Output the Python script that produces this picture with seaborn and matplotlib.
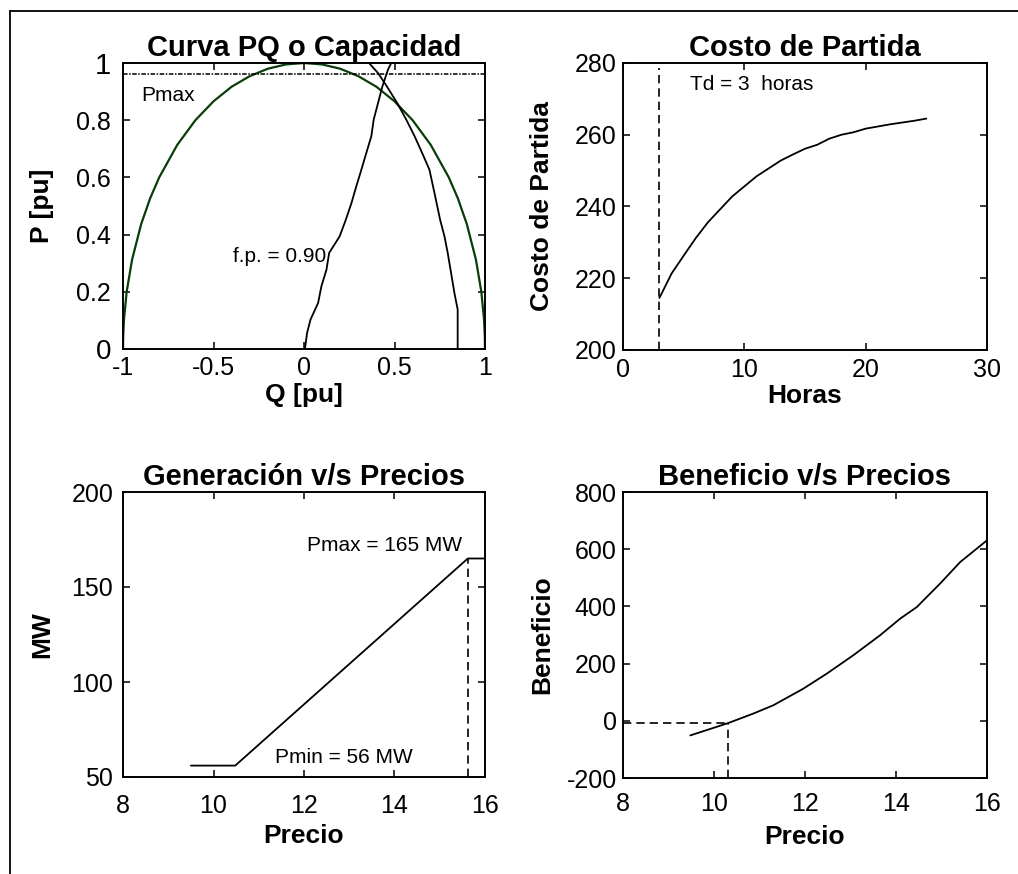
import matplotlib
matplotlib.use("Agg")
import matplotlib.pyplot as plt
from matplotlib.lines import Line2D
import seaborn as sns

# ---- Curva PQ (per unit) ----
cap_q = [-1.0, -0.999, -0.995, -0.98, -0.95, -0.9, -0.85, -0.8, -0.7, -0.6, -0.5,
         -0.4, -0.3, -0.2, -0.1, 0.0, 0.1, 0.2, 0.3, 0.4, 0.5, 0.6, 0.7, 0.8,
         0.85, 0.9, 0.95, 0.98, 0.995, 0.999, 1.0]
cap_p = [0.0, 0.045, 0.100, 0.199, 0.312, 0.436, 0.527, 0.600, 0.714, 0.800, 0.866,
         0.917, 0.954, 0.980, 0.995, 1.0, 0.995, 0.980, 0.954, 0.917, 0.866, 0.800,
         0.714, 0.600, 0.527, 0.436, 0.312, 0.199, 0.100, 0.045, 0.0]

rotor_q = [0.849, 0.849, 0.831, 0.794, 0.776, 0.752, 0.721, 0.693, 0.653, 0.611,
           0.565, 0.515, 0.458, 0.409, 0.359]
rotor_p = [0.0, 0.138, 0.196, 0.336, 0.394, 0.452, 0.545, 0.627, 0.685, 0.744,
           0.802, 0.860, 0.918, 0.965, 1.0]

fp_q = [0.005, 0.017, 0.036, 0.078, 0.096, 0.124, 0.139, 0.197, 0.231, 0.262,
        0.289, 0.317, 0.344, 0.372, 0.385, 0.409, 0.433, 0.464, 0.482]
fp_p = [0.0, 0.056, 0.103, 0.161, 0.219, 0.277, 0.336, 0.394, 0.452, 0.510,
        0.569, 0.627, 0.685, 0.744, 0.802, 0.860, 0.918, 0.977, 1.0]

p_max_pu = 0.96

# ---- Costo de partida ----
horas = list(range(3, 26))
costo = [214.5, 221.3, 226.3, 231.2, 235.6, 239.2, 242.8, 245.6, 248.4, 250.6,
         252.8, 254.5, 256.1, 257.2, 258.9, 260.0, 260.7, 261.7, 262.3, 262.9,
         263.4, 263.9, 264.5]
td_horas = 3

# ---- Generacion v/s precios ----
gen_precio = [9.5, 10.48, 15.62, 16.0]
gen_mw = [56, 56, 165, 165]
p_min_mw = 56
p_max_mw = 165

# ---- Beneficio v/s precios ----
ben_precio = [9.48, 9.83, 10.31, 10.86, 11.30, 11.96, 12.48, 13.06, 13.65, 14.09,
              14.46, 14.97, 15.41, 16.0]
beneficio = [-51, -33, -8, 25, 54, 112, 165, 229, 299, 357, 398, 480, 555, 631]
precio_equilibrio = 10.3
beneficio_equilibrio = -8

sns.set_theme(style="white")
plt.rcParams["font.family"] = ["Liberation Sans", "DejaVu Sans"]
plt.rcParams["text.color"] = "black"
plt.rcParams["axes.labelcolor"] = "black"
plt.rcParams["axes.titlecolor"] = "black"
plt.rcParams["xtick.color"] = "black"
plt.rcParams["ytick.color"] = "black"
plt.rcParams["axes.unicode_minus"] = False

W, H = 1018, 874
fig = plt.figure(figsize=(W / 100, H / 100), dpi=100)

TITLE_FS = 21
LABEL_FS = 19
TICK_FS = 18
NOTE_FS = 15
LW = 1.3
GREEN = "#0a3d0a"


def make_axes(left, top, right, bottom):
    return fig.add_axes([left / W, 1 - bottom / H, (right - left) / W, (bottom - top) / H])


def style(ax, title, xlabel, ylabel, xpad, ypad, xlab_y):
    ax.set_title(title, fontsize=TITLE_FS, fontweight="bold", pad=5, color="black")
    ax.set_xlabel(xlabel, fontsize=LABEL_FS, fontweight="bold", va="top", color="black")
    ax.set_ylabel(ylabel, fontsize=LABEL_FS, fontweight="bold", color="black")
    ax.xaxis.set_label_coords(0.5, xlab_y)
    ax.yaxis.set_label_coords(-0.19, 0.5)
    ax.tick_params(axis="both", which="both", direction="in", length=5, width=1.1,
                   top=True, right=True, bottom=True, left=True,
                   labelsize=TICK_FS, colors="black")
    ax.tick_params(axis="x", pad=xpad)
    ax.tick_params(axis="y", pad=ypad)
    for s in ax.spines.values():
        s.set_color("black")
        s.set_linewidth(1.4)
        s.set_visible(True)
    ax.set_facecolor("white")


# Curva PQ o Capacidad
ax1 = make_axes(123, 63, 485, 349)
sns.lineplot(x=cap_q, y=cap_p, sort=False, estimator=None, color=GREEN, lw=1.6, ax=ax1)
sns.lineplot(x=rotor_q, y=rotor_p, sort=False, estimator=None, color="black", lw=LW, ax=ax1)
sns.lineplot(x=fp_q, y=fp_p, sort=False, estimator=None, color="black", lw=LW, ax=ax1)
ax1.plot([-1, 1], [p_max_pu, p_max_pu], color="black", lw=1.1, ls=(0, (3, 1, 1, 1)))
ax1.text(-0.9, 0.885, "Pmax", fontsize=NOTE_FS, va="center", ha="left")
ax1.text(0.125, 0.325, "f.p. = 0.90", fontsize=NOTE_FS, va="center", ha="right")
ax1.set_xlim(-1, 1)
ax1.set_ylim(0, 1)
ax1.set_xticks([-1, -0.5, 0, 0.5, 1])
ax1.set_xticklabels(["-1", "-0.5", "0", "0.5", "1"])
ax1.set_yticks([0, 0.2, 0.4, 0.6, 0.8, 1])
ax1.set_yticklabels(["0", "0.2", "0.4", "0.6", "0.8", "1"])
style(ax1, "Curva PQ o Capacidad", "Q [pu]", "P [pu]", 5, 8.5, -0.12)
ylabs = ax1.get_yticklabels()
ylabs[0].set_fontsize(20)
ylabs[-1].set_fontsize(21)

# Costo de Partida
ax2 = make_axes(623, 63, 987, 350)
sns.lineplot(x=horas, y=costo, estimator=None, color="black", lw=LW, ax=ax2)
ax2.plot([td_horas, td_horas], [200, 278.5], color="black", lw=1.2, ls=(0, (5, 3)))
ax2.text(5.5, 274, "Td = 3  horas", fontsize=NOTE_FS, va="center", ha="left")
ax2.set_xlim(0, 30)
ax2.set_ylim(200, 280)
ax2.set_xticks([0, 10, 20, 30])
ax2.set_yticks([200, 220, 240, 260, 280])
style(ax2, "Costo de Partida", "Horas", "Costo de Partida", 6, 4.5, -0.12)

# Generacion v/s Precios
ax3 = make_axes(123, 492, 485, 777)
sns.lineplot(x=gen_precio, y=gen_mw, sort=False, estimator=None, color="black", lw=LW, ax=ax3)
ax3.plot([gen_precio[2], gen_precio[2]], [50, p_max_mw], color="black", lw=1.2, ls=(0, (5, 3)))
ax3.text(15.5, 172, f"Pmax = {p_max_mw} MW", fontsize=NOTE_FS, va="center", ha="right")
ax3.text(11.36, 60.5, f"Pmin = {p_min_mw} MW", fontsize=NOTE_FS, va="center", ha="left")
ax3.set_xlim(8, 16)
ax3.set_ylim(50, 200)
ax3.set_xticks([8, 10, 12, 14, 16])
ax3.set_yticks([50, 100, 150, 200])
style(ax3, "Generación v/s Precios", "Precio", "MW", 12, 7, -0.165)

# Beneficio v/s Precios
ax4 = make_axes(623, 492, 987, 778)
sns.lineplot(x=ben_precio, y=beneficio, estimator=None, color="black", lw=LW, ax=ax4)
ax4.plot([8, precio_equilibrio], [beneficio_equilibrio, beneficio_equilibrio],
         color="black", lw=1.2, ls=(0, (5, 3)))
ax4.plot([precio_equilibrio, precio_equilibrio], [-200, beneficio_equilibrio],
         color="black", lw=1.2, ls=(0, (5, 3)))
ax4.set_xlim(8, 16)
ax4.set_ylim(-200, 800)
ax4.set_xticks([8, 10, 12, 14, 16])
ax4.set_yticks([-200, 0, 200, 400, 600, 800])
style(ax4, "Beneficio v/s Precios", "Precio", "Beneficio", 10, 4.5, -0.165)

# Outer frame (left and top edges)
fx = 9.5 / W
fy = 1 - 10.5 / H
fig.add_artist(Line2D([fx, fx], [0, fy], color="black", lw=1.3, transform=fig.transFigure))
fig.add_artist(Line2D([fx, 1], [fy, fy], color="black", lw=1.3, transform=fig.transFigure))

fig.savefig("out.png", dpi=100, facecolor="white")
